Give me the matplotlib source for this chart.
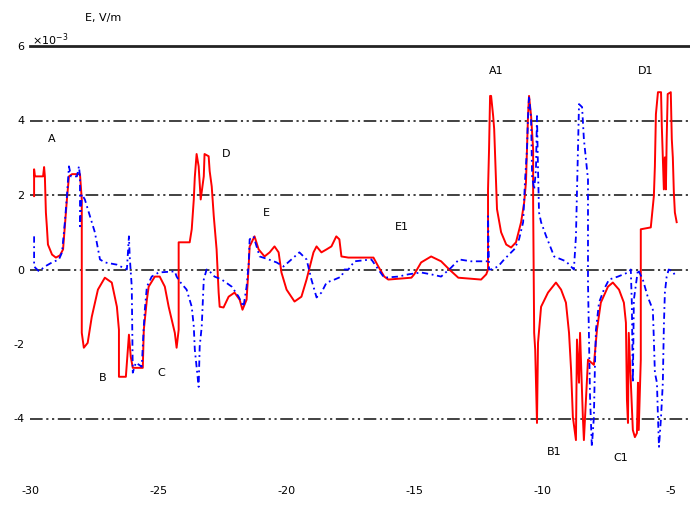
import matplotlib
matplotlib.use("Agg")
import matplotlib.pyplot as plt

# ---- data ----
red_x = [-29.84, -29.84, -29.81, -29.49, -29.45, -29.42, -29.38, -29.34, -29.30, -29.14,
         -28.99, -28.83, -28.71, -28.64, -28.56, -28.48, -28.36, -28.05, -27.98, -27.98,
         -27.90, -27.75, -27.59, -27.35, -27.08, -26.81, -26.61, -26.53, -26.53, -26.50,
         -26.26, -26.22, -26.14, -26.07, -25.99, -25.60, -25.56, -25.44, -25.37, -25.13,
         -24.94, -24.74, -24.59, -24.35, -24.28, -24.20, -24.20, -23.77, -23.69, -23.61,
         -23.57, -23.50, -23.42, -23.34, -23.22, -23.19, -23.03, -22.99, -22.91, -22.83,
         -22.72, -22.64, -22.60, -22.45, -22.25, -22.02, -21.82, -21.71, -21.55, -21.47,
         -21.43, -21.24, -21.08, -20.85, -20.65, -20.46, -20.30, -20.19, -19.99, -19.68,
         -19.41, -19.21, -18.94, -18.82, -18.63, -18.43, -18.24, -18.05, -17.93, -17.85,
         -17.58, -16.60, -16.41, -16.18, -16.02, -15.12, -15.01, -14.74, -14.35, -13.96,
         -13.64, -13.29, -12.40, -12.20, -12.13, -12.13, -12.09, -12.05, -12.01, -11.93,
         -11.89, -11.81, -11.78, -11.62, -11.42, -11.23, -11.04, -10.84, -10.72, -10.65,
         -10.61, -10.57, -10.53, -10.45, -10.37, -10.37, -10.33, -10.29, -10.22, -10.18,
         -10.06, -9.79, -9.48, -9.28, -9.09, -8.97, -8.89, -8.82, -8.70, -8.66,
         -8.58, -8.54, -8.43, -8.39, -8.23, -8.00, -7.88, -7.73, -7.45, -7.26,
         -7.02, -6.83, -6.75, -6.71, -6.67, -6.64, -6.56, -6.48, -6.40, -6.32,
         -6.28, -6.25, -6.17, -6.17, -5.78, -5.70, -5.66, -5.62, -5.58, -5.50,
         -5.38, -5.35, -5.31, -5.27, -5.23, -5.19, -5.16, -5.12, -5.00, -4.96,
         -4.92, -4.88, -4.84, -4.77]
red_y = [1.97, 2.69, 2.50, 2.50, 2.75, 2.50, 1.53, 1.13, 0.67, 0.40,
         0.32, 0.38, 0.54, 1.16, 1.88, 2.50, 2.56, 2.56, 1.88, -1.70,
         -2.10, -1.97, -1.27, -0.54, -0.22, -0.35, -1.00, -1.62, -2.88, -2.88,
         -2.88, -2.50, -1.75, -2.34, -2.64, -2.64, -1.62, -0.81, -0.46, -0.19,
         -0.19, -0.46, -1.00, -1.70, -2.10, -1.62, 0.73, 0.73, 1.08, 1.88,
         2.48, 3.10, 2.77, 1.88, 2.50, 3.10, 3.04, 2.64, 2.23, 1.43,
         0.54, -0.62, -1.00, -1.02, -0.73, -0.62, -0.81, -1.08, -0.81, 0.08,
         0.62, 0.89, 0.54, 0.35, 0.46, 0.62, 0.46, -0.08, -0.54, -0.86,
         -0.73, -0.27, 0.46, 0.62, 0.46, 0.54, 0.62, 0.89, 0.81, 0.35,
         0.32, 0.32, 0.08, -0.19, -0.27, -0.22, -0.13, 0.19, 0.35, 0.22,
         0.00, -0.22, -0.27, -0.13, 0.00, 2.15, 3.23, 4.66, 4.66, 4.12,
         3.77, 2.15, 1.62, 1.00, 0.67, 0.59, 0.73, 1.27, 1.80, 2.34,
         3.23, 4.12, 4.66, 4.12, 3.23, 1.80, -1.70, -2.15, -4.12, -1.97,
         -1.00, -0.62, -0.35, -0.54, -0.89, -1.70, -2.69, -3.96, -4.58, -1.88,
         -3.04, -1.70, -3.96, -4.58, -2.42, -2.56, -1.62, -0.89, -0.46, -0.35,
         -0.54, -0.89, -1.43, -3.50, -4.12, -1.70, -3.04, -4.31, -4.50, -4.39,
         -3.04, -4.31, -2.42, 1.08, 1.13, 1.70, 1.97, 2.77, 4.17, 4.76,
         4.76, 3.85, 3.01, 2.15, 3.01, 2.15, 3.50, 4.71, 4.76, 3.50,
         3.01, 2.07, 1.53, 1.27]

blue_x = [-29.84, -29.84, -29.65, -29.42, -29.14, -28.87, -28.75, -28.64, -28.56, -28.48,
          -28.40, -28.17, -28.09, -28.05, -28.05, -27.98, -27.86, -27.66, -27.47, -27.27,
          -27.08, -26.61, -26.22, -26.14, -26.11, -26.03, -25.99, -25.87, -25.64, -25.56,
          -25.52, -25.44, -25.25, -24.98, -24.35, -24.28, -24.16, -23.89, -23.69, -23.61,
          -23.57, -23.42, -23.38, -23.30, -23.22, -23.11, -22.99, -22.80, -22.52, -22.13,
          -21.86, -21.67, -21.55, -21.47, -21.43, -21.28, -21.16, -21.04, -20.69, -20.38,
          -20.11, -19.80, -19.49, -19.21, -19.02, -18.82, -18.63, -18.43, -18.12, -17.85,
          -17.73, -17.58, -17.34, -16.68, -16.41, -16.18, -15.63, -15.24, -14.74, -14.35,
          -13.96, -13.57, -13.26, -12.79, -12.28, -12.13, -12.13, -12.09, -12.01, -11.74,
          -11.50, -11.31, -11.11, -10.92, -10.76, -10.69, -10.61, -10.57, -10.53, -10.45,
          -10.41, -10.33, -10.26, -10.22, -10.18, -10.14, -10.06, -9.86, -9.55, -9.09,
          -8.78, -8.70, -8.62, -8.58, -8.46, -8.39, -8.31, -8.23, -8.23, -8.19,
          -8.15, -8.08, -8.00, -7.96, -7.92, -7.80, -7.61, -7.41, -7.06, -6.67,
          -6.56, -6.52, -6.48, -6.44, -6.28, -6.09, -5.90, -5.70, -5.66, -5.62,
          -5.54, -5.50, -5.46, -5.38, -5.31, -5.27, -5.23, -5.16, -5.08, -4.92,
          -4.81]
blue_y = [0.89, 0.08, -0.05, 0.08, 0.19, 0.27, 0.46, 1.27, 1.97, 2.77,
          2.50, 2.50, 2.77, 2.50, 1.16, 2.02, 1.88, 1.43, 1.00, 0.27,
          0.19, 0.13, 0.00, 0.89, 0.35, -0.46, -2.77, -2.50, -2.61, -1.53,
          -1.08, -0.46, -0.19, -0.08, -0.05, -0.19, -0.32, -0.54, -1.00, -1.53,
          -2.15, -3.15, -2.07, -1.53, -0.27, 0.00, -0.05, -0.19, -0.27, -0.46,
          -0.73, -1.00, -0.46, 0.13, 0.81, 0.89, 0.62, 0.35, 0.27, 0.19,
          0.08, 0.27, 0.46, 0.27, -0.27, -0.75, -0.62, -0.35, -0.27, -0.19,
          0.00, 0.00, 0.22, 0.27, 0.00, -0.22, -0.19, -0.13, -0.08, -0.13,
          -0.19, 0.05, 0.27, 0.22, 0.22, 0.22, 1.43, 0.00, 0.00, 0.08,
          0.27, 0.40, 0.54, 0.81, 1.27, 2.34, 3.23, 4.12, 4.66, 4.04,
          2.50, 2.15, 2.69, 4.12, 2.69, 1.53, 1.27, 0.89, 0.35, 0.22,
          0.00, 0.89, 3.23, 4.44, 4.36, 3.50, 2.96, 2.42, -0.35, -1.97,
          -3.42, -4.76, -3.96, -2.61, -1.62, -0.89, -0.54, -0.27, -0.19, -0.08,
          0.00, -0.89, -3.04, -0.81, 0.00, -0.27, -0.73, -1.08, -1.88, -2.77,
          -3.04, -3.96, -4.76, -3.96, -3.04, -1.53, -0.62, -0.19, 0.00, -0.05,
          -0.19]

y_ticks = [6, 4, 2, 0, -2, -4]
y_tick_labels = ["6", "4", "2", "0", "-2", "-4"]
x_ticks = [-30, -25, -20, -15, -10, -5]
x_tick_labels = ["-30", "-25", "-20", "-15", "-10", "-5"]
grid_levels = [4, 2, 0, -4]

point_labels = ["A", "B", "C", "D", "E", "E1", "A1", "D1", "B1", "C1"]
label_x = [-29.14, -27.16, -24.86, -22.33, -20.77, -15.51, -11.81, -5.97, -9.56, -6.95]
label_y = [3.5, -2.9, -2.77, 3.1, 1.53, 1.13, 5.33, 5.33, -4.9, -5.06]

# ---- figure ----
fig = plt.figure(figsize=(6.9, 5.07), dpi=100)
ax = fig.add_axes([30 / 690, 14 / 507, 660 / 690, 447 / 507])

for lv in grid_levels:
    ax.axhline(lv, color="#333333", lw=1.3, dashes=(7, 2, 1.2, 2, 1.2, 2), zorder=1)

ax.plot(red_x, red_y, color="#ff0000", lw=1.4, zorder=3)
ax.plot(blue_x, blue_y, color="#0000ff", lw=1.3, dashes=(3.5, 2, 1, 2), zorder=4)

for t, lx, ly in zip(point_labels, label_x, label_y):
    ax.text(lx, ly, t, fontsize=8, ha="center", va="center", color="black")

ax.set_xlim(-29.95, -4.25)
ax.set_ylim(-6, 6)
ax.set_xticks(x_ticks)
ax.set_xticklabels(x_tick_labels, fontsize=8)
ax.set_yticks(y_ticks)
ax.set_yticklabels(y_tick_labels, fontsize=8)
ax.tick_params(axis="x", length=0, pad=-5)
ax.tick_params(axis="y", length=0, pad=4)
for s in ["left", "right", "bottom"]:
    ax.spines[s].set_visible(False)
ax.spines["top"].set_linewidth(2)
ax.spines["top"].set_color("#222222")

fig.text(103 / 690, 1 - 18 / 507, "E, V/m", fontsize=8, ha="center", va="center")
fig.text(32 / 690, 1 - 40 / 507, r"$\times10^{-3}$", fontsize=8, ha="left", va="center")

fig.savefig("out.png", dpi=100)
